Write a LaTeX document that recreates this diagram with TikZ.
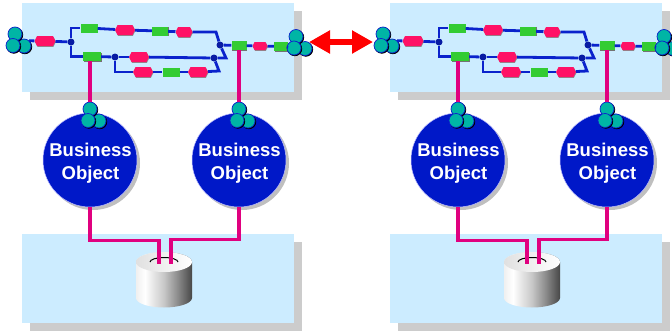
\documentclass[tikz,border=0pt]{standalone}
\usepackage{fontspec}
\setmainfont{Liberation Sans}
\usetikzlibrary{arrows.meta,shadows,shapes.symbols}
\definecolor{panelblue}{HTML}{CCECFF}
\definecolor{panelgray}{HTML}{CCCCCC}
\definecolor{flowblue}{HTML}{0A22CC}
\definecolor{linkpink}{HTML}{E0007F}
\definecolor{stepgreen}{HTML}{33CC33}
\definecolor{stepred}{HTML}{FF1166}
\definecolor{ballteal}{HTML}{00B5A5}
\definecolor{objblue}{HTML}{0018C8}
\pgfdeclarehorizontalshading{drumbody}{100bp}{
  color(0bp)=(black!6); color(25bp)=(black!6); color(33bp)=(white); color(50bp)=(black!22);
  color(62bp)=(black!45); color(75bp)=(black!72); color(100bp)=(black!72)}
\tikzset{
  panel/.style={fill=panelblue, minimum width=272pt, minimum height=89pt, inner sep=0pt,
    copy shadow={shadow xshift=8pt, shadow yshift=-8pt, fill=panelgray, draw=none}},
  greenstep/.style={fill=stepgreen, minimum width=17pt, minimum height=9pt, inner sep=0pt,
    copy shadow={shadow xshift=.5pt, shadow yshift=-.8pt, fill=black!55, draw=none}},
  redstep/.style={signal, signal to=east and west, signal pointer angle=125,
    fill=stepred, minimum width=20pt, minimum height=10pt, inner sep=0pt,
    copy shadow={shadow xshift=.5pt, shadow yshift=-.8pt, fill=black!45, draw=none}},
  junction/.style={circle, fill=flowblue!80!black, minimum size=7pt, inner sep=0pt},
  ball/.style={circle, draw=flowblue, line width=.7pt, fill=ballteal, minimum size=14pt, inner sep=0pt,
    copy shadow={shadow xshift=.8pt, shadow yshift=-.8pt, fill=black, draw=black}},
  balls/.pic={
    \node[ball] (r) at (9,12) {};
    \node[ball] (t) at (0,0) {};
    \node[ball] (l) at (-2,11.5) {};
  },
  object/.style={circle, fill=objblue, draw=blue!25, line width=.5pt, minimum size=94pt, inner sep=0pt,
    copy shadow={shadow xshift=3pt, shadow yshift=-3pt, fill=black!25, draw=none}},
  objtext/.style={text=white, font=\fontsize{18.5}{23}\selectfont\bfseries, align=center},
  flow/.style={draw=flowblue, line width=2.8pt},
  link/.style={draw=linkpink, line width=3.2pt},
}
\begin{document}
\begin{tikzpicture}[x=1pt, y=-1pt]
\useasboundingbox (0,0) rectangle (672,330);
\foreach \n/\x in {a/0,b/368} {
\begin{scope}[xshift=\x pt, name prefix=\n-]
  \node[panel] (top) at (158,47.5) {};
  \node[panel] (base) at (158,278.5) {};
  % steps of the process
  \node[redstep, minimum width=21pt] (r1) at (45,41) {};
  \node[junction] (j1) at (71,42) {};
  \node[greenstep] (g1) at (89,28) {};
  \node[redstep] (r2) at (125,30) {};
  \node[greenstep, minimum width=16pt] (g2) at (160,31) {};
  \node[redstep, minimum width=17pt] (r3) at (184,32) {};
  \node[greenstep, minimum width=18pt] (g3) at (92,56.5) {};
  \node[junction] (j2) at (115,57) {};
  \node[redstep] (r4) at (139,57) {};
  \node[redstep, minimum width=20pt] (r5) at (143,72) {};
  \node[greenstep] (g4) at (171,72) {};
  \node[redstep] (r6) at (198,72) {};
  \node[junction] (j3) at (214,58) {};
  \node[junction] (j4) at (220,45) {};
  \node[greenstep, minimum width=15pt] (g5) at (239,45.5) {};
  \node[redstep, minimum width=15pt, minimum height=8pt] (r7) at (260,46) {};
  \node[greenstep, minimum width=14pt] (g6) at (281,46.5) {};
  \coordinate (c1) at (216,32);
  \coordinate (c2) at (226,58);
  \coordinate (c3) at (219,71);
  % flow lines
  \draw[flow] (r1) -- (j1);
  \draw[flow] (j1) |- (g1);
  \draw[flow] (j1) |- (g3);
  \draw[flow] (g1) -- (r2);
  \draw[flow] (r2) -- (g2);
  \draw[flow] (g2) -- (r3);
  \draw[flow] (r3) -- (c1) -- (j4) -- (c2) -- (j3);
  \draw[flow] (g3) -- (j2);
  \draw[flow] (j2) -- (r4);
  \draw[flow] (r4) -- (j3);
  \draw[flow] (j2) |- (r5);
  \draw[flow] (r5) -- (g4);
  \draw[flow] (g4) -- (r6);
  \draw[flow] (r6) -- (c3) -- (j3);
  \draw[flow] (j4) -- (g5);
  \draw[flow] (g5) -- (r7);
  \draw[flow] (r7) -- (g6);
  % clusters at both ends
  \pic (in) at (15,34) {balls};
  \pic (out) at (296,36.5) {balls};
  \draw[flow] (inr.north east) -- (r1);
  \draw[flow] (g6) -- (outl);
  % business objects
  \node[object] (bo1) at (90,160) {};
  \node[object] (bo2) at (239,160) {};
  \node[objtext] (t1) at (90.5,163) {Business\\Object};
  \node[objtext] (t2) at (239.5,163) {Business\\Object};
  \pic (p1) at (90,109) {balls};
  \pic (p2) at (239,109) {balls};
  \draw[link] (g3.south -| p1t.north) -- (p1t.north);
  \draw[link] (g5.south -| p2t.north) -- (p2t.north);
  % database
  \shade[shading=drumbody] (136,262) arc[start angle=180, end angle=0, x radius=28, y radius=-10]
    -- (192,298) arc[start angle=0, end angle=-180, x radius=28, y radius=-9.5] -- cycle;
  \shade[left color=black!12, right color=white] (164,262) ellipse[x radius=28, y radius=10];
  \draw[line width=1pt] (150,262) arc[start angle=180, end angle=0, x radius=14, y radius=-4.5];
  \coordinate (d1) at (159,264);
  \coordinate (d2) at (171,264);
  \draw[link] (bo1.south) -- ++(0,33) -| (d1);
  \draw[link] (bo2.south) -- ++(0,32) -| (d2);
\end{scope}
}
\coordinate (tipl) at (309,42);
\coordinate (tipr) at (373,42);
\draw[red, line width=6pt, {Triangle[length=21pt,width=22pt]}-{Triangle[length=21pt,width=22pt]}] (tipl) -- (tipr);
\end{tikzpicture}
\end{document}
